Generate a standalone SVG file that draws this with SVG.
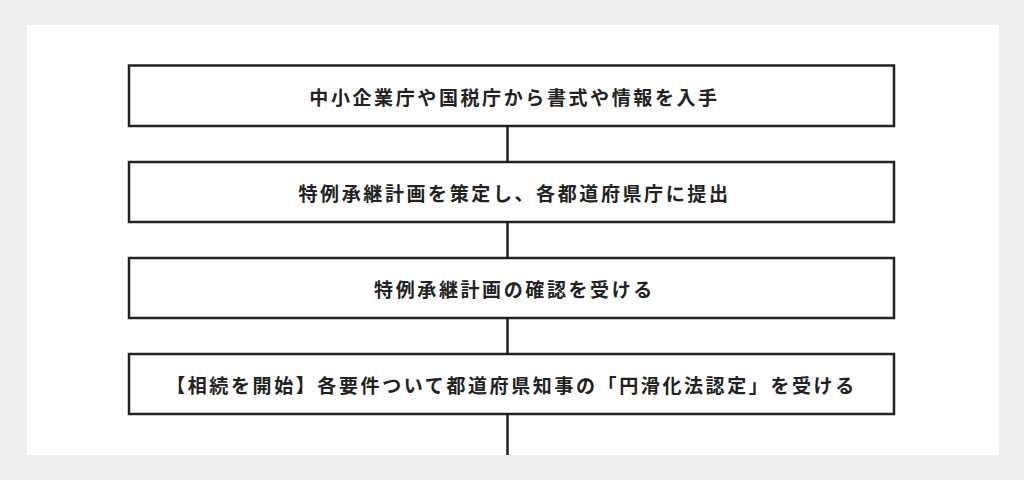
<svg xmlns="http://www.w3.org/2000/svg" width="1024" height="480" viewBox="0 0 1024 480">
<style>
.box{fill:#fff;stroke:#222;stroke-width:2.5}
.t{font-family:"Noto Sans CJK JP",sans-serif;font-size:19px;font-weight:bold;fill:#222;text-anchor:middle;dominant-baseline:central;letter-spacing:2.6px}
.c{stroke:#222;stroke-width:2.5}
</style>
<rect width="1024" height="480" fill="#efefef"/>
<rect x="27" y="25" width="972" height="430" fill="#fff"/>
<g id="connectors">
<line class="c" x1="507.5" y1="126" x2="507.5" y2="162"/>
<line class="c" x1="507.5" y1="222" x2="507.5" y2="258"/>
<line class="c" x1="507.5" y1="318" x2="507.5" y2="354"/>
<line class="c" x1="507.5" y1="414" x2="507.5" y2="455"/>
</g>
<g id="n1"><rect class="box" x="129" y="65.5" width="765" height="60.5"/><text class="t" x="514.5" y="96">中小企業庁や国税庁から書式や情報を入手</text></g>
<g id="n2"><rect class="box" x="129" y="162" width="765" height="60"/><text class="t" x="514.5" y="192">特例承継計画を策定し、各都道府県庁に提出</text></g>
<g id="n3"><rect class="box" x="129" y="258" width="765" height="60"/><text class="t" x="514.5" y="288">特例承継計画の確認を受ける</text></g>
<g id="n4"><rect class="box" x="129" y="354" width="765" height="60"/><text class="t" x="511.5" y="384">【相続を開始】各要件ついて都道府県知事の「円滑化法認定」を受ける</text></g>
</svg>
